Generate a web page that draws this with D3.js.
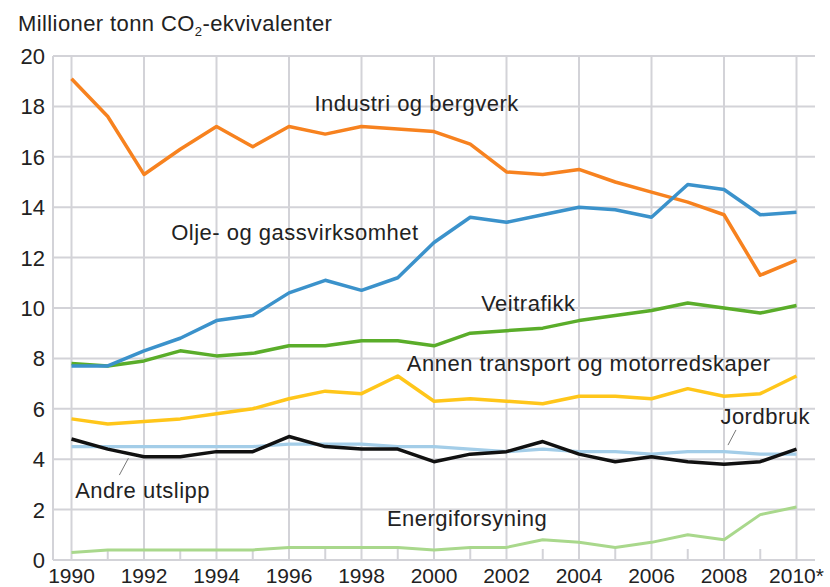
<!DOCTYPE html>
<html>
<head>
<meta charset="utf-8">
<script src="https://cdn.jsdelivr.net/npm/d3@7"></script>
<style>
  body { margin: 0; background: #fff; }
  svg { display: block; font-family: "Liberation Sans", Arial, sans-serif; }
</style>
</head>
<body>
<svg width="830" height="587"></svg>
<script>
var years = d3.range(1990, 2011);

var industri = [19.1, 17.6, 15.3, 16.3, 17.2, 16.4, 17.2, 16.9, 17.2, 17.1, 17.0, 16.5, 15.4, 15.3, 15.5, 15.0, 14.6, 14.2, 13.7, 11.3, 11.9];
var oljeGass = [7.7, 7.7, 8.3, 8.8, 9.5, 9.7, 10.6, 11.1, 10.7, 11.2, 12.6, 13.6, 13.4, 13.7, 14.0, 13.9, 13.6, 14.9, 14.7, 13.7, 13.8];
var veitrafikk = [7.8, 7.7, 7.9, 8.3, 8.1, 8.2, 8.5, 8.5, 8.7, 8.7, 8.5, 9.0, 9.1, 9.2, 9.5, 9.7, 9.9, 10.2, 10.0, 9.8, 10.1];
var annenTransport = [5.6, 5.4, 5.5, 5.6, 5.8, 6.0, 6.4, 6.7, 6.6, 7.3, 6.3, 6.4, 6.3, 6.2, 6.5, 6.5, 6.4, 6.8, 6.5, 6.6, 7.3];
var jordbruk = [4.5, 4.5, 4.5, 4.5, 4.5, 4.5, 4.6, 4.6, 4.6, 4.5, 4.5, 4.4, 4.3, 4.4, 4.3, 4.3, 4.2, 4.3, 4.3, 4.2, 4.2];
var andreUtslipp = [4.8, 4.4, 4.1, 4.1, 4.3, 4.3, 4.9, 4.5, 4.4, 4.4, 3.9, 4.2, 4.3, 4.7, 4.2, 3.9, 4.1, 3.9, 3.8, 3.9, 4.4];
var energi = [0.3, 0.4, 0.4, 0.4, 0.4, 0.4, 0.5, 0.5, 0.5, 0.5, 0.4, 0.5, 0.5, 0.8, 0.7, 0.5, 0.7, 1.0, 0.8, 1.8, 2.1];

var yTicks = [0, 2, 4, 6, 8, 10, 12, 14, 16, 18, 20];
var xTickYears = [1990, 1992, 1994, 1996, 1998, 2000, 2002, 2004, 2006, 2008, 2010];
var xTickLabels = ["1990", "1992", "1994", "1996", "1998", "2000", "2002", "2004", "2006", "2008", "2010*"];

var series = [
  {name: "Energiforsyning", values: energi, color: "#a9d88c", width: 3},
  {name: "Jordbruk", values: jordbruk, color: "#a3cde8", width: 3.2},
  {name: "Andre utslipp", values: andreUtslipp, color: "#111111", width: 3.5},
  {name: "Annen transport og motorredskaper", values: annenTransport, color: "#ffc61a", width: 3.5},
  {name: "Veitrafikk", values: veitrafikk, color: "#5aad2a", width: 3.5},
  {name: "Industri og bergverk", values: industri, color: "#f7821f", width: 3.5},
  {name: "Olje- og gassvirksomhet", values: oljeGass, color: "#3b92cb", width: 3.5}
];

// labels placed by hand where they sit in the original
var labels = [
  {text: "Industri og bergverk", year: 1996.7, value: 17.8},
  {text: "Olje- og gassvirksomhet", year: 1992.75, value: 12.7},
  {text: "Veitrafikk", year: 2001.3, value: 9.9},
  {text: "Annen transport og motorredskaper", year: 1999.25, value: 7.5},
  {text: "Jordbruk", year: 2007.9, value: 5.4},
  {text: "Andre utslipp", year: 1990.1, value: 2.45},
  {text: "Energiforsyning", year: 1998.7, value: 1.33}
];

var svg = d3.select("svg");

var x = d3.scaleLinear().domain([1990, 2010]).range([71.5, 796.5]);
var y = d3.scaleLinear().domain([0, 20]).range([560, 56]);
var left = 53, right = 815;

var grid = svg.append("g").attr("stroke", "#d3d3d8").attr("stroke-width", 2);

grid.selectAll(".h").data(yTicks).enter().append("line")
  .attr("x1", left).attr("x2", right)
  .attr("y1", function(d) { return y(d); })
  .attr("y2", function(d) { return y(d); });

grid.selectAll(".v").data(xTickYears).enter().append("line")
  .attr("x1", function(d) { return x(d); })
  .attr("x2", function(d) { return x(d); })
  .attr("y1", y(20)).attr("y2", y(0));

grid.append("line").attr("x1", left).attr("x2", left).attr("y1", y(20)).attr("y2", y(0));

// short ticks for the odd years
grid.selectAll(".t").data(years.filter(function(d) { return d % 2 === 1; })).enter().append("line")
  .attr("x1", function(d) { return x(d); })
  .attr("x2", function(d) { return x(d); })
  .attr("y1", y(0) - 11).attr("y2", y(0));

svg.append("g").selectAll("text").data(yTicks).enter().append("text")
  .attr("x", 45).attr("y", function(d) { return y(d); })
  .attr("dy", "0.36em")
  .attr("text-anchor", "end")
  .attr("font-size", 22).attr("fill", "#222")
  .text(function(d) { return d; });

svg.append("g").selectAll("text").data(xTickYears).enter().append("text")
  .attr("x", function(d) { return x(d); })
  .attr("y", 582.5)
  .attr("text-anchor", "middle")
  .attr("font-size", 21).attr("fill", "#222")
  .text(function(d, i) { return xTickLabels[i]; });

var title = svg.append("text").attr("x", 18).attr("y", 31)
  .attr("font-size", 22).attr("letter-spacing", 0.4).attr("fill", "#222");
title.append("tspan").text("Millioner tonn CO");
title.append("tspan").attr("font-size", 13).attr("dy", 5).text("2");
title.append("tspan").attr("dy", -5).text("-ekvivalenter");

var line = d3.line()
  .x(function(d, i) { return x(years[i]); })
  .y(function(d) { return y(d); });

svg.append("g").selectAll("path").data(series).enter().append("path")
  .attr("fill", "none")
  .attr("stroke", function(d) { return d.color; })
  .attr("stroke-width", function(d) { return d.width; })
  .attr("stroke-linejoin", "round")
  .attr("d", function(d) { return line(d.values); });

// leader lines
var leaders = [
  {x1: 1991.32, v1: 3.37, x2: 1991.57, v2: 4.04},
  {x1: 2008.11, v1: 4.56, x2: 2008.33, v2: 5.16}
];
svg.append("g").selectAll("line").data(leaders).enter().append("line")
  .attr("x1", function(d) { return x(d.x1); })
  .attr("y1", function(d) { return y(d.v1); })
  .attr("x2", function(d) { return x(d.x2); })
  .attr("y2", function(d) { return y(d.v2); })
  .attr("stroke", "#777").attr("stroke-width", 1);

svg.append("g").selectAll("text").data(labels).enter().append("text")
  .attr("x", function(d) { return x(d.year); })
  .attr("y", function(d) { return y(d.value); })
  .attr("font-size", 22).attr("letter-spacing", 0.5).attr("fill", "#222")
  .text(function(d) { return d.text; });
</script>
</body>
</html>
